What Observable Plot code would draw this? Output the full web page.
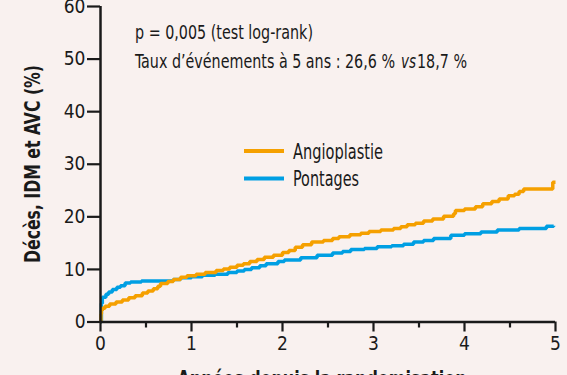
<!DOCTYPE html>
<html><head><meta charset="utf-8">
<script src="https://cdn.jsdelivr.net/npm/d3@7"></script>
<script src="https://cdn.jsdelivr.net/npm/@observablehq/plot@0.6"></script>
<style>
html,body{margin:0;padding:0;background:#f9f1ef;overflow:hidden}
#chart{position:relative;width:567px;height:375px}
</style></head><body><div id="chart"></div>
<script>
// Kaplan-Meier curves (years, cumulative % events)
const angioT = [0,0.005,0.01,0.02,0.05,0.10,0.17,0.24,0.31,0.38,0.46,0.52,0.58,0.63,0.66,0.74,0.80,0.88,0.95,1.05,1.15,1.27,1.35,1.42,1.50,1.57,1.64,1.72,1.80,1.90,2.00,2.07,2.14,2.22,2.32,2.45,2.55,2.62,2.74,2.86,2.95,3.08,3.22,3.30,3.37,3.46,3.55,3.65,3.77,3.88,3.90,4.00,4.12,4.20,4.30,4.38,4.48,4.55,4.60,4.65,4.97,5.0];
const angioV = [0,1.5,2.2,2.6,3.0,3.4,3.8,4.2,4.6,5.0,5.5,5.9,6.3,6.8,7.3,7.7,8.1,8.5,8.8,9.1,9.4,9.8,10.1,10.4,10.8,11.1,11.5,11.9,12.3,12.7,13.2,13.6,14.2,14.7,15.2,15.5,15.9,16.2,16.6,16.9,17.2,17.5,17.8,18.1,18.5,18.8,19.2,19.6,20.1,20.6,21.2,21.5,21.9,22.5,22.9,23.4,24.0,24.3,24.8,25.3,26.6,26.6];
const pontT = [0,0.01,0.02,0.06,0.09,0.13,0.18,0.22,0.27,0.33,0.45,0.80,0.88,1.00,1.12,1.26,1.40,1.50,1.58,1.66,1.75,1.82,1.95,2.02,2.20,2.38,2.55,2.66,2.75,2.90,3.04,3.20,3.33,3.44,3.55,3.66,3.85,4.00,4.18,4.36,4.60,4.90,4.98];
const pontV = [0,3.5,4.7,5.3,5.7,6.2,6.6,6.9,7.4,7.6,7.8,8.1,8.4,8.6,8.9,9.1,9.4,9.7,10.0,10.3,10.7,11.1,11.5,11.8,12.2,12.7,13.1,13.4,13.8,14.0,14.3,14.5,14.8,15.2,15.5,15.9,16.5,16.8,17.1,17.5,17.8,18.2,18.3];
const seriesNames = ["Angioplastie", "Pontages"];
const seriesColors = ["#f5a000", "#009fe3"];
const xTicks = [0,1,2,3,4,5];
const xMinorTicks = [0.5,1.5,2.5,3.5,4.5];
const yTicks = [0,10,20,30,40,50,60];
const yLabel = "Décès, IDM et AVC (%)";
const xLabel = "Années depuis la randomisation";
const note1 = "p = 0,005 (test log-rank)";
const note2a = "Taux d’événements à 5 ans : 26,6 %";
const note2b = "vs";
const note2c = "18,7 %";

const angio = angioT.map((t,i)=>({t, v: angioV[i]}));
const pont = pontT.map((t,i)=>({t, v: pontV[i]}));

const FONT = '"DejaVu Sans Condensed","DejaVu Sans",sans-serif';
const INK = "#1a1a1a";

const plot = Plot.plot({
  width: 567, height: 375,
  marginLeft: 100, marginRight: 12, marginTop: 6, marginBottom: 53.5,
  style: {background: "transparent", fontFamily: FONT, color: INK, overflow: "visible", fontStretch: "condensed"},
  x: {domain: [0,5]},
  y: {domain: [0,60]},
  marks: [
    Plot.line(pont, {x: "t", y: "v", curve: "step-after", stroke: seriesColors[1], strokeWidth: 3.5, strokeLinejoin: "miter", strokeLinecap: "butt"}),
    Plot.line(angio, {x: "t", y: "v", curve: "step-after", stroke: seriesColors[0], strokeWidth: 3.5, strokeLinejoin: "miter", strokeLinecap: "butt"}),
    Plot.axisX({ticks: xMinorTicks, tickSize: 6, text: null, label: null, stroke: INK, strokeWidth: 2.2}),
    Plot.axisX({ticks: xTicks, tickFormat: d => String(d), tickSize: 10, tickPadding: 4, label: null, fontSize: 19, fill: INK, stroke: INK, strokeWidth: 2.2}),
    Plot.axisY({ticks: yTicks, tickFormat: d => String(d), tickSize: 13, tickPadding: 2, label: null, fontSize: 19, fill: INK, stroke: INK, strokeWidth: 2.2}),
    Plot.ruleX([0], {y1: 0, y2: 60, stroke: INK, strokeWidth: 2.5}),
    Plot.ruleY([0], {x1: 0, x2: 5, stroke: INK, strokeWidth: 2.5})
  ]
});
document.getElementById("chart").appendChild(plot);

const svg = d3.select(plot);
function txt(x, y, size, len) {
  const t = svg.append("text").attr("x", x).attr("y", y).attr("text-anchor", "start")
    .attr("font-size", size).attr("fill", INK).attr("font-family", FONT);
  if (len) t.attr("textLength", len).attr("lengthAdjust", "spacingAndGlyphs");
  return t;
}
// annotations
txt(135, 39, 19, 178).text(note1);
txt(135, 68, 19, 260).text(note2a);
txt(401, 68, 19, 15).attr("font-style", "italic").text(note2b);
txt(417, 68, 19, 50).text(note2c);
// legend
const legendLens = [90, 66];
seriesNames.forEach((name, i) => {
  const y = 151 + i * 27.5;
  svg.append("line").attr("x1", 244).attr("x2", 284).attr("y1", y).attr("y2", y).attr("stroke", seriesColors[i]).attr("stroke-width", 4);
  txt(293, y + 7.5, 21, legendLens[i]).text(name);
});
// axis titles
svg.append("text").attr("transform", "translate(40,164) rotate(-90)").attr("text-anchor", "middle")
  .attr("font-size", 21).attr("font-weight", "bold").attr("fill", INK).attr("font-family", FONT)
  .attr("textLength", 198).attr("lengthAdjust", "spacingAndGlyphs").text(yLabel);
svg.append("text").attr("x", 322).attr("y", 386).attr("text-anchor", "middle")
  .attr("font-size", 21).attr("font-weight", "bold").attr("fill", INK).attr("font-family", FONT)
  .attr("textLength", 289).attr("lengthAdjust", "spacingAndGlyphs").text(xLabel);
</script>
</body></html>
